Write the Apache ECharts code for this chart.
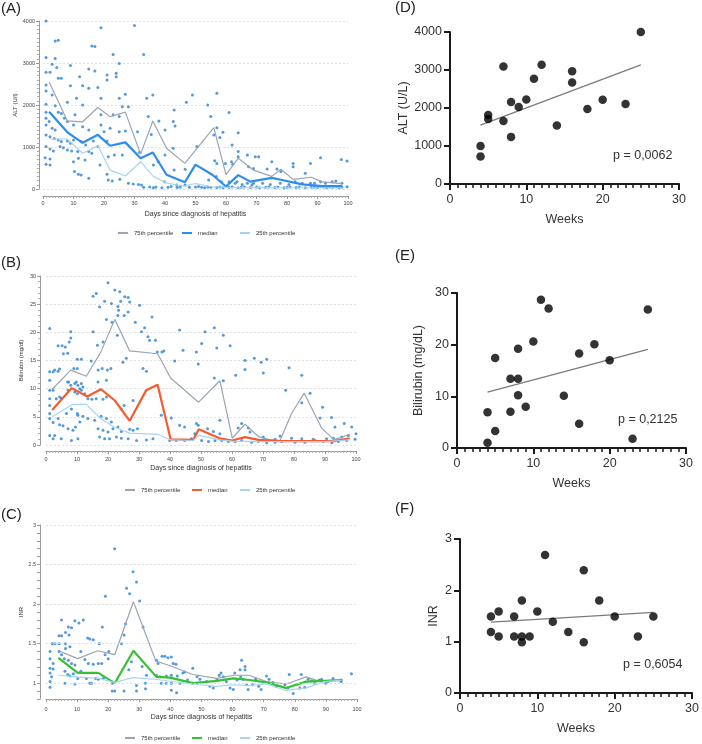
<!DOCTYPE html>
<html><head><meta charset="utf-8">
<script src="https://cdn.jsdelivr.net/npm/echarts@6/dist/echarts.min.js"></script>
<style>html,body{margin:0;padding:0;background:#fff}#c{width:702px;height:744px}</style>
</head><body><div id="c"></div>
<script>
// ---------- Panel A: ALT (U/l) by day ----------
const altDots = [[1,4000],[19,3840],[30,3890],[4,3525],[5,3540],[1,3130],[4,3110],[16,3405],[17,3390],[23,3205],[33,3205],[25,2990],[3,2970],[4.5,2890],[1,2780],[2.3,2780],[9,2940],[15,2860],[17,2810],[21,2715],[24,2755],[24,2675],[5,2635],[6,2635],[12,2675],[9,2460],[13,2460],[15,2400],[18,2415],[21,2595],[1,2475],[1,2335],[3,2240],[27,2255],[25,2160],[34,2160],[36,2240],[8,2065],[11,2160],[1,2015],[4,1985],[13,2000],[19,2160],[26,1960],[28,1960],[5,1825],[6,1800],[1,1825],[1,1685],[10.5,1765],[19,1765],[23,1765],[25,1725],[34.5,1725],[38,1620],[43,1880],[47,2065],[49,2240],[2,1605],[1,1525],[3,1445],[4,1405],[7,1685],[8,1605],[10,1525],[13,1485],[15,1405],[19,1525],[22,1445],[20,1365],[27,1380],[31,1365],[35.5,1300],[40,1405],[42.7,1605],[43.3,1500],[1,1285],[2.3,1245],[3.7,1205],[5,1165],[6,1130],[8,1145],[9,1090],[10,1165],[5.6,1010],[6.7,985],[8,930],[9.4,905],[1,1010],[2.3,955],[3.4,905],[12.5,1130],[14,1050],[16.5,1145],[18,1010],[11.4,890],[15,890],[16,850],[21,1145],[25,1365],[23.4,810],[26,810],[0.7,745],[2.3,715],[1,590],[2.3,570],[11.6,730],[13.8,690],[10,650],[21.4,770],[31.6,875],[40,810],[42.7,970],[10.3,415],[11.6,350],[12.5,335],[15,255],[18.7,570],[21,350],[21.4,215],[22.7,190],[25.2,230],[28,135],[29.6,120],[31.3,110],[32.3,95],[36.2,30],[39,30],[43.8,95],[46.6,95],[46.6,470],[36.2,570],[37.8,650],[43,450],[39.8,175],
[57,2280],[54,2000],[61,1820],[55,1725],[57,1460],[59,1350],[64,1340],[56,1285],[58,1225],[62,1050],[50.5,1010],[64,890],[64,770],[67,810],[69.6,770],[70.7,770],[75,650],[82,610],[82,530],[87.7,610],[91,745],[97.8,705],[99.7,665],[56.3,675],[57,610],[59.8,610],[61.8,650],[62.2,590],[67.4,530],[69,490],[73.5,475],[76.7,475],[78,415],[86,375],[56.8,295],[54.3,215],[58.5,175],[61,175],[63,135],[63.6,175],[65.3,110],[67,135],[68.5,95],[69,135],[72,135],[74.5,110],[77.8,135],[80.6,110],[82.7,175],[85,135],[87.7,135],[89,135],[91,175],[92.6,135],[94.8,175],[96,190],[98,135],[99.7,55],
[33,40],[35,50],[37,45],[41,40],[42,60],[44,35],[45,50],[48,40],[50,45],[51,60],[52,40],[53,30],[54,50],[55,40],[57,35],[58,50],[59,30],[61,40],[62,50],[64,30],[65,40],[66,50],[68,35],[70,45],[71,30],[73,40],[74,50],[76,35],[77,45],[79,30],[80,40],[81,50],[83,35],[84,45],[86,30],[88,40],[89,50],[90,35],[91,60],[92,45],[93,30],[94,50],[95,40],[96,60],[97,30],[98,45]];
const alt75 = [[2,2550],[8,1620],[13,1600],[18,1940],[22,1720],[27,1830],[32,830],[36,1620],[40.5,970],[46.5,610],[56,1460],[60,340],[64,730],[69,450],[75,300],[78,470],[82,230],[88,280],[91.5,170],[98,130]];
const altMed = [[2,1840],[8,1350],[13,1100],[18,1290],[22,1030],[27,1110],[32,730],[36,870],[40.5,340],[46.5,160],[50,580],[55.5,340],[60,60],[64,330],[68,175],[75,265],[78,220],[85,110],[91.5,70],[98,70]];
const alt25 = [[2,1190],[8,1190],[13,850],[18,1030],[22,450],[27,310],[32,650],[36,310],[40.5,140],[46.5,70],[50,130],[55,60],[60,40],[70,35],[80,30],[90,30],[98,30]];

// ---------- Panel B: Bilirubin (mg/dl) by day ----------
const bilDots = [[20,28.8],[15.2,26.4],[16.2,26.9],[22.2,27.5],[23.8,27.2],[26.5,26.2],[27,25.4],[24.1,25.5],[23.2,24.6],[25.4,26.3],[18.9,25.5],[17.3,24.5],[21.1,25.1],[30.2,24.8],[26.5,23.6],[25.2,23],[23.2,23],[23.4,23.9],[34.2,22.7],[19.5,22.3],[21.3,21.8],[28.8,21.8],[31.8,20.8],[30.8,20.1],[8,20.1],[1.2,20.7],[15.2,20.1],[32.9,19.2],[33.4,18.6],[18.4,18.3],[16.6,17.7],[5.2,17.6],[3.9,17.6],[6.2,17.4],[7.5,18.3],[7,16.3],[5.6,16.2],[8,19],[23,19.5],[25.9,15.4],[24.8,14.7],[31.3,13.6],[32.4,13.1],[35.3,18.6],[35.9,16.5],[38,16.7],[37.4,16.5],[41.5,14.9],[48.5,16.5],[43.1,20.4],[44.2,16.8],
[1.2,13],[1.2,11.5],[2.3,13],[2.8,13.3],[3.9,13.1],[4.4,13.5],[1.2,9.7],[2.3,9.7],[1.2,8.2],[1.2,7],[1.2,5.6],[1.2,4.7],[2.3,4],[1.2,1.7],[2.3,1.1],[3.3,8.2],[4.4,8.5],[5,8.3],
[7,11.2],[7.3,11.2],[8,10.6],[9.3,10.9],[9.8,11.2],[10.3,10.6],[10.9,10],[11.4,10.9],[11.9,10.3],[7.1,9.7],[9.3,9.4],[10.1,9.1],[11.4,9.7],[12.5,9.1],[9,13.6],[10.1,13.6],[10.1,15.2],[11.4,15.2],[14.6,14.9],[16.8,13.3],[18.1,13.6],[19.8,13.3],[20.9,13.6],[16.8,11.2],[19.5,11.5],[16.2,8.2],[18.4,8.1],[19.5,8.5],[13.5,8.2],[14.8,8.1],[25.2,7],[24.3,6.4],[28.1,7.9],[6.6,5.6],[8.2,6.4],[10.1,5.6],[11.9,5.1],[13.5,4.7],[3.9,4.7],[4.4,3.6],[5.5,3.4],[7.1,2.9],[8.7,2.6],[9.5,3.2],[10.3,5.3],[10.9,4.1],[15.7,4.4],[17.8,5.1],[19.5,4.7],[21.1,4.1],[16.8,2.9],[18.4,2.6],[20,2.3],[21.6,2.9],[23.2,3.2],[24.3,2.4],[27,2.8],[28.1,2.6],[29.5,2.9],[17.3,1.4],[18.9,1.1],[20.5,1.1],[22.7,1.4],[24.3,1.2],[26.5,1.1],[29.2,0.8],[32.4,0.9],[34.5,1.1],[2.8,1.7],[4.9,1.1],[8.2,0.8],[10.3,1.1],[37.2,5.3],[40.4,4.8],[43.1,3.5],[44.7,3.2],[39.9,0.8],[42,0.8],[44.7,0.8],[46.9,1.1],[48,2],[48.5,3.8],
[54.3,20.8],[51.3,20.1],[57.2,19.5],[50.2,18],[55.1,17.2],[59.4,17.6],[49.1,14.4],[54.3,11.9],[57.2,11.4],[61.2,12.4],[64.2,15],[64.2,13.4],[67.2,15.4],[69.4,14.7],[70.1,12.8],[71.2,15.2],[77.3,9.7],[78.4,13.7],[82.5,12.4],[82.5,7.5],[85.2,9.2],[89.2,6.7],[88.4,4.8],[92.1,4.9],[93.2,3.2],[96.2,3.8],[98.6,3.2],[100,2],[56.1,4.4],[56.1,2],[49.1,3.5],[52.1,2.9],[54,2.4],[62,3],[63.1,3.8],[65.3,3],[65.8,2.3],[70.1,1.4],[73.9,1],[75.5,1.6],[79.2,1.2],[82.5,1.1],[86.2,1],[90.5,1.1],[92.7,1.2],[95.4,1.4],[97.5,1.7],
[50.2,0.8],[52.4,0.6],[54.5,0.8],[56.7,0.8],[58.8,0.6],[61,0.6],[63.1,0.8],[66.3,0.5],[68.5,0.6],[71.2,0.4],[73.9,0.5],[76,0.6],[80.3,0.5],[83.5,0.5],[86.8,0.8],[89.5,0.6],[92.2,0.4],[94.3,0.6],[97,0.8],[99.7,1]];
const bil75 = [[2,9.9],[8,13.3],[13,12.2],[17.6,16.4],[22.2,22.3],[27,16.7],[36,16.2],[40.2,11.9],[49.2,7.6],[56.1,11.4],[60.1,1.2],[64.2,3.7],[68.5,1.5],[72.3,0.9],[75.5,0.8],[79.2,5.6],[83.3,9.2],[88.9,3.0],[93,0.9],[98,1.9]];
const bilMed = [[2,6.2],[8.3,10.1],[13.3,8.6],[17.7,9.9],[22.2,7.9],[27,4.3],[32.3,9.7],[36,10.7],[40.2,1.0],[47.5,0.9],[49.3,2.8],[56,1.2],[60,0.8],[64.2,1.4],[68.5,0.9],[75.5,0.7],[93,0.7],[98,1.2]];
const bil25 = [[2,5.0],[8.5,7.2],[13,7.2],[17.6,4.7],[22.3,3.1],[27,2.1],[36,1.9],[40.2,0.9],[47.5,0.8],[49.3,1.7],[56,0.9],[60,0.7],[70,0.6],[80,0.6],[90,0.6],[98,0.9]];

// ---------- Panel C: INR by day ----------
const inrDots = [[22.1,2.70],[28,2.41],[29.1,2.28],[25.9,2.20],[26.9,2.13],[30.1,2.04],[19.1,2.10],[5,1.80],[9.3,1.79],[10.6,1.76],[12,1.80],[8.2,1.70],[7.2,1.71],[18.1,1.71],[6.3,1.64],[7.4,1.61],[4.2,1.60],[5,1.60],[4.2,1.50],[6.3,1.50],[7.7,1.46],[6.3,1.44],[2,1.50],[2.9,1.50],[14.1,1.56],[15.2,1.55],[13.4,1.57],[17.1,1.50],[25.6,1.75],[25.1,1.61],[24.3,1.50],[31.2,1.71],
[1.3,1.40],[1.3,1.31],[2.3,1.25],[1.3,1.19],[2.3,1.18],[1.3,1.13],[1.8,1.08],[1.3,1.02],[1.3,0.95],
[4.2,1.40],[5,1.36],[5.9,1.31],[7.2,1.29],[8.2,1.25],[9.3,1.23],[6.1,1.15],[7,1.11],[7.7,1.09],[8.8,1.12],[10.2,1.06],[11.2,1.15],[6.1,1.0],[9.3,0.99],[11.2,1.40],[12.5,1.3],[13.6,1.25],[15.2,1.24],[16.8,1.25],[17.9,1.25],[13,1.06],[14.1,1.0],[14.6,1.0],[15.9,1.06],[16.8,1.05],[18.4,1.06],[19,1.36],[20,1.31],[21.3,1.0],[21.3,0.9],[22.1,0.9],[20.2,1.40],[25.1,0.9],[27.5,1.27],[26.6,1.17],[29.1,0.97],[29.1,0.9],[32,1.0],[32,0.93],[30.9,1.21],[32.3,1.1],[35.5,1.29],[36,1.25],[37.3,1.34],[38.2,1.34],[39.2,1.32],[40.3,1.33],[40.9,1.25],[35.5,1.1],[36.6,1.08],[38.7,1.09],[40.3,1.1],[42.2,1.09],[44.6,1.14],[37.1,1.0],[38.7,1.0],[40.3,1.0],[43,1.0],[45.5,1.04],[47,1.0],[42,0.88],[40.3,0.91],
[41.8,1.24],[44,1.13],[47.2,1.19],[48.6,1.08],[49.5,1.05],[51.7,1.02],[52.7,0.96],[53.8,0.94],[54.9,1.04],[55.7,1.1],[56.3,1.13],[57,1.08],[58,1.02],[59.2,0.94],[60.2,0.92],[60.7,1.13],[61.4,1.04],[62.4,1.17],[64,1.17],[62.9,1.29],[64,1.21],[62.6,1.08],[63.4,1.05],[64.5,0.98],[65,0.92],[66.4,0.98],[67.4,1.05],[68.4,0.96],[69.2,0.92],[70.9,1.09],[71.7,1.05],[73,1.01],[74.1,0.96],[76.8,0.98],[77.8,0.94],[78.2,1.11],[79.5,0.87],[82.1,1.11],[81.6,0.94],[83.2,0.95],[84.3,1.05],[85.4,1.03],[86.4,1.0],[87.8,1.04],[88.6,1.05],[90,1.0],[90.7,1.02],[92.3,1.06],[94.9,1.04],[94.9,1.02],[98.2,1.12]];
const inr75 = [[4,1.41],[10.2,1.31],[16.6,1.41],[22.1,1.36],[28.1,2.03],[35.3,1.28],[39.9,1.22],[47.2,1.11],[54.9,1.06],[60.5,1.10],[65.3,1.10],[70.9,1.02],[77.3,0.99],[83.7,1.08],[87.5,1.03],[95.5,1.04]];
const inrMed = [[4,1.32],[10.2,1.13],[16.8,1.13],[22.1,1.0],[28.1,1.41],[35.5,1.08],[39.9,1.07],[47.2,1.0],[54.9,1.03],[60.2,1.06],[65.3,1.04],[70.9,1.01],[77.1,0.94],[83.7,1.02],[89.6,1.03],[95.5,1.04]];
const inr25 = [[4,1.10],[10.2,1.08],[16.8,1.06],[22.1,1.01],[28,1.07],[35,1.05],[47.2,0.99],[54.9,0.96],[60.2,0.98],[65.3,0.97],[70.9,0.99],[77,0.91],[83.7,0.94],[89.6,1.02],[95.5,1.04]];
const inrGridValues = [1, 1.5, 2, 2.5, 3];

// ---------- Panels D-F: peak values vs weeks ----------
const dPts = [[4,1000],[4,725],[5,1815],[5,1710],[7,3090],[7,1660],[8,2155],[8,1240],[9,2025],[10,2225],[11,2770],[12,3140],[14,1540],[16,2970],[16,2670],[18,1975],[20,2215],[23,2105],[25,4000]];
const dFit = [[4,1550],[25,3135]];
const ePts = [[4,6.9],[4,1.0],[5,3.3],[5,17.4],[7,7.0],[7,13.4],[8,13.4],[8,10.2],[8,19.2],[9,8.0],[10,20.6],[11,28.7],[12,27.0],[14,10.1],[16,18.3],[16,4.7],[18,20.1],[20,17.0],[23,1.8],[25,26.8]];
const eFit = [[4,10.8],[25,19.1]];
const fPts = [[4,1.49],[4,1.19],[5,1.59],[5,1.1],[7,1.49],[7,1.1],[8,1.8],[8,1.1],[8,0.99],[9,1.1],[10,1.59],[11,2.69],[12,1.39],[14,1.19],[16,2.39],[16,0.99],[18,1.8],[20,1.49],[23,1.1],[25,1.49]];
const fFit = [[4,1.38],[25,1.57]];
const pValues = ['p = 0,0062', 'p = 0,2125', 'p = 0,6054'];
const panelLabels = ['(A)','(B)','(C)','(D)','(E)','(F)'];
const legendNames = ['75th percentile','median','25th percentile'];

const FONT = '"Liberation Sans", Arial, sans-serif';
const DOT = '#3f8fd8';
const C75 = '#9aa4b4', C25 = '#a8d4f3';
const MED = ['#2d8cf0', '#f55a30', '#35c035'];
const plain = v => String(v);

function leftX(gi, off, margin, gap) {
  return {gridIndex: gi, type: 'value', min: 0, max: 100, interval: 10, offset: off,
    axisLine: {show: true, onZero: false, lineStyle: {color: '#9a9a9a', width: 1}},
    axisTick: {show: true, length: 3, lineStyle: {color: '#9a9a9a'}},
    minorTick: {show: true, splitNumber: 10, length: 2, lineStyle: {color: '#b0b0b0'}},
    splitLine: {show: false},
    axisLabel: {fontSize: 5.5, color: '#444', margin: margin, fontFamily: FONT, formatter: plain},
    name: 'Days since diagnosis of hepatitis', nameLocation: 'middle', nameGap: gap,
    nameTextStyle: {fontSize: 7, color: '#333', fontFamily: FONT}};
}
function leftY(gi, min, max, interval, minorSplit, name, gap, grid, fmt) {
  return {gridIndex: gi, type: 'value', min: min, max: max, interval: interval, offset: gi === 0 ? 4 : 6,
    axisLine: {show: true, onZero: false, lineStyle: {color: '#9a9a9a', width: 1}},
    axisTick: {show: true, length: 3, lineStyle: {color: '#9a9a9a'}},
    minorTick: {show: minorSplit > 0, splitNumber: minorSplit || 5, length: 2, lineStyle: {color: '#b0b0b0'}},
    splitLine: {show: grid, lineStyle: {color: '#dadada', type: [2, 2], width: 0.8}},
    axisLabel: {fontSize: 5.5, color: '#444', margin: 4, fontFamily: FONT, formatter: fmt || plain},
    name: name, nameLocation: 'middle', nameGap: gap,
    nameTextStyle: {fontSize: 6, color: '#333', fontFamily: FONT}};
}
function rightX(gi) {
  return {gridIndex: gi, type: 'value', min: 0, max: 30, interval: 10,
    axisLine: {show: true, onZero: false, lineStyle: {color: '#1a1a1a', width: 2}},
    axisTick: {show: true, length: 6, lineStyle: {color: '#1a1a1a', width: 2}},
    minorTick: {show: true, splitNumber: 10, length: 4, lineStyle: {color: '#1a1a1a', width: 1.5}},
    splitLine: {show: false},
    axisLabel: {fontSize: 12.5, color: '#333', margin: 9, fontFamily: FONT, formatter: plain},
    name: 'Weeks', nameLocation: 'middle', nameGap: 29,
    nameTextStyle: {fontSize: 12.5, color: '#333', fontFamily: FONT}};
}
function rightY(gi, max, interval, name, gap) {
  return {gridIndex: gi, type: 'value', min: 0, max: max, interval: interval,
    axisLine: {show: true, onZero: false, lineStyle: {color: '#1a1a1a', width: 2}},
    axisTick: {show: true, length: 6, lineStyle: {color: '#1a1a1a', width: 2}},
    splitLine: {show: false},
    axisLabel: {fontSize: 12.5, color: '#333', margin: 8, fontFamily: FONT, formatter: plain},
    name: name, nameLocation: 'middle', nameGap: gap,
    nameTextStyle: {fontSize: 12.5, color: '#333', fontFamily: FONT}};
}
function dots(gi, data) {
  return {type: 'scatter', xAxisIndex: gi, yAxisIndex: gi, data: data, symbol: 'circle', symbolSize: 3,
    itemStyle: {color: DOT, opacity: 0.9}, silent: true, z: 2};
}
function pline(gi, name, data, color, width) {
  return {type: 'line', name: name, xAxisIndex: gi, yAxisIndex: gi, data: data, symbol: 'none',
    color: color, itemStyle: {color: color}, lineStyle: {color: color, width: width}, z: 3, silent: true};
}
function legendItem(name, left, top) {
  return {data: [name], left: left, top: top, padding: 0, icon: 'rect', itemWidth: 10, itemHeight: 2, itemGap: 0,
    selectedMode: false, textStyle: {fontSize: 6, color: '#333', fontFamily: FONT, padding: [0, 0, 0, 1]},
    formatter: n => n.slice(2)};
}

const inrFmt = v => {
  const r = Number(v.toFixed(2));
  return (Math.abs(r * 2 - Math.round(r * 2)) < 1e-6 && r >= 1) ? String(r) : '';
};

const series = [
  dots(0, altDots),
  pline(0, 'A 75th percentile', alt75, C75, 1.2),
  pline(0, 'A median', altMed, MED[0], 2.2),
  pline(0, 'A 25th percentile', alt25, C25, 1.2),
  dots(1, bilDots),
  pline(1, 'B 75th percentile', bil75, C75, 1.2),
  pline(1, 'B median', bilMed, MED[1], 2.2),
  pline(1, 'B 25th percentile', bil25, C25, 1.2),
  Object.assign(dots(2, inrDots), {markLine: {silent: true, symbol: 'none', label: {show: false},
    lineStyle: {color: '#dadada', type: [2, 2], width: 0.8}, data: inrGridValues.map(v => ({yAxis: v}))}}),
  pline(2, 'C 75th percentile', inr75, C75, 1.2),
  pline(2, 'C median', inrMed, MED[2], 2.2),
  pline(2, 'C 25th percentile', inr25, C25, 1.2),
];
[[dPts, dFit], [ePts, eFit], [fPts, fFit]].forEach((p, i) => {
  const gi = 3 + i;
  series.push({type: 'scatter', xAxisIndex: gi, yAxisIndex: gi, data: p[0], symbol: 'circle', symbolSize: 8.5,
    itemStyle: {color: '#000'}, z: 3, silent: true});
  series.push({type: 'line', xAxisIndex: gi, yAxisIndex: gi, data: p[1], symbol: 'none',
    lineStyle: {color: '#7a7a7a', width: 1.2}, z: 2, silent: true});
});

const legends = [];
[['A', 230, [118, 182, 240]], ['B', 487, [125, 192, 240]], ['C', 735, [125, 192, 240]]].forEach(([p, top, lefts]) => {
  legendNames.forEach((n, i) => legends.push(legendItem(p + ' ' + n, lefts[i], top)));
});

const labelPos = [[1, 1], [1, 255], [1, 507], [395, 0], [395, 248], [395, 501]];
const pPos = [[613, 149], [618, 413], [623, 658]];
const graphic = panelLabels.map((t, i) => ({type: 'text', left: labelPos[i][0], top: labelPos[i][1],
  style: {text: t, fontSize: 15, fill: '#222', fontFamily: FONT}}))
  .concat(pValues.map((t, i) => ({type: 'text', left: pPos[i][0], top: pPos[i][1],
  style: {text: t, fontSize: 12.5, fill: '#333', fontFamily: FONT}})));

const option = {
  animation: false,
  backgroundColor: '#fff',
  textStyle: {fontFamily: FONT},
  grid: [
    {left: 43, top: 21, width: 305, height: 168},
    {left: 46, top: 276, width: 310, height: 169},
    {left: 46, top: 525, width: 311, height: 174},
    {left: 450, top: 32, width: 229, height: 152},
    {left: 457, top: 293, width: 229, height: 155},
    {left: 460, top: 539, width: 233, height: 154}
  ],
  xAxis: [leftX(0, 7, 4, 15), leftX(1, 6, 5, 14), leftX(2, 0, 7, 15), rightX(3), rightX(4), rightX(5)],
  yAxis: [
    leftY(0, 0, 4000, 1000, 10, 'ALT (U/l)', 21, true),
    leftY(1, 0, 30, 5, 5, 'Bilirubin (mg/dl)', 16, true),
    leftY(2, 0.8, 3, 0.1, 0, 'INR', 16, false, inrFmt),
    rightY(3, 4000, 1000, 'ALT (U/L)', 39),
    rightY(4, 30, 10, 'Bilirubin (mg/dL)', 32),
    rightY(5, 3, 1, 'INR', 20)
  ],
  legend: legends,
  graphic: graphic,
  series: series
};
const chart = echarts.init(document.getElementById('c'), null, {renderer: 'canvas'});
chart.setOption(option);
</script></body></html>
